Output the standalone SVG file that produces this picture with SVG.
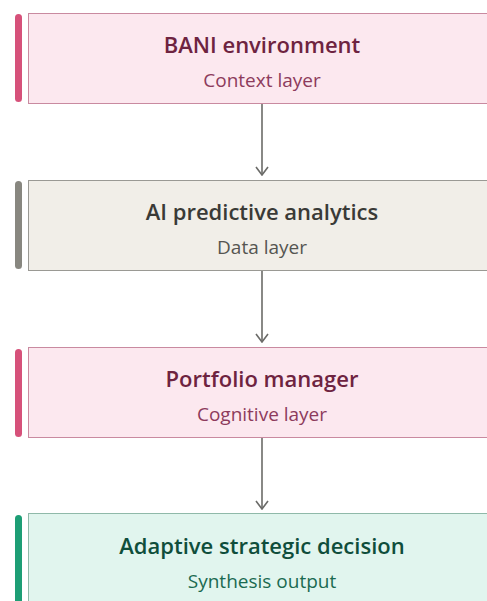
<svg xmlns="http://www.w3.org/2000/svg" width="487" height="601" viewBox="0 0 487 601">
<defs>
<marker id="ah" viewBox="0 0 10 14" refX="9" refY="7" markerWidth="10" markerHeight="14" markerUnits="userSpaceOnUse" orient="auto">
<path d="M1,1 L9,7 L1,13" fill="none" stroke="#6b6b68" stroke-width="1.6"/>
</marker>
<style>
.t{font-family:"Open Sans","Noto Sans",sans-serif;font-weight:600;font-size:22px;text-anchor:middle}
.s{font-family:"Open Sans","Noto Sans",sans-serif;font-size:19px;text-anchor:middle}
.pink .box{fill:#fce8ef;stroke:#c98aa0}
.pink .bar{fill:#d6517a}
.pink .t{fill:#6e2340}
.pink .s{fill:#8d3b5c}
.gray .box{fill:#f1eee8;stroke:#9a9994}
.gray .bar{fill:#888780}
.gray .t{fill:#3a3a37}
.gray .s{fill:#555551}
.green .box{fill:#e1f5ee;stroke:#8fb9a9}
.green .bar{fill:#1d9e75}
.green .t{fill:#0f4e3b}
.green .s{fill:#1a6a51}
.box{stroke-width:1}
.conn{stroke:#6b6b68;stroke-width:1.6;fill:none}
</style>
</defs>
<rect width="487" height="601" fill="#ffffff"/>
<g id="connectors">
<line class="conn" x1="262" y1="104" x2="262" y2="175" marker-end="url(#ah)"/>
<line class="conn" x1="262" y1="271" x2="262" y2="342" marker-end="url(#ah)"/>
<line class="conn" x1="262" y1="438" x2="262" y2="509" marker-end="url(#ah)"/>
</g>
<g id="bani" class="pink">
<rect class="bar" x="15" y="14" width="7" height="88" rx="3.5"/>
<rect class="box" x="28.5" y="13.5" width="470" height="90"/>
<text class="t" x="262" y="53">BANI environment</text>
<text class="s" x="262" y="87">Context layer</text>
</g>
<g id="ai" class="gray">
<rect class="bar" x="15" y="181" width="7" height="88" rx="3.5"/>
<rect class="box" x="28.5" y="180.5" width="470" height="90"/>
<text class="t" x="262" y="220">AI predictive analytics</text>
<text class="s" x="262" y="254">Data layer</text>
</g>
<g id="pm" class="pink">
<rect class="bar" x="15" y="349" width="7" height="88" rx="3.5"/>
<rect class="box" x="28.5" y="347.5" width="470" height="90"/>
<text class="t" x="262" y="387">Portfolio manager</text>
<text class="s" x="262" y="421">Cognitive layer</text>
</g>
<g id="asd" class="green">
<rect class="bar" x="15" y="515" width="7" height="100" rx="3.5"/>
<rect class="box" x="28.5" y="513.5" width="470" height="100"/>
<text class="t" x="262" y="554">Adaptive strategic decision</text>
<text class="s" x="262" y="588">Synthesis output</text>
</g>
</svg>
